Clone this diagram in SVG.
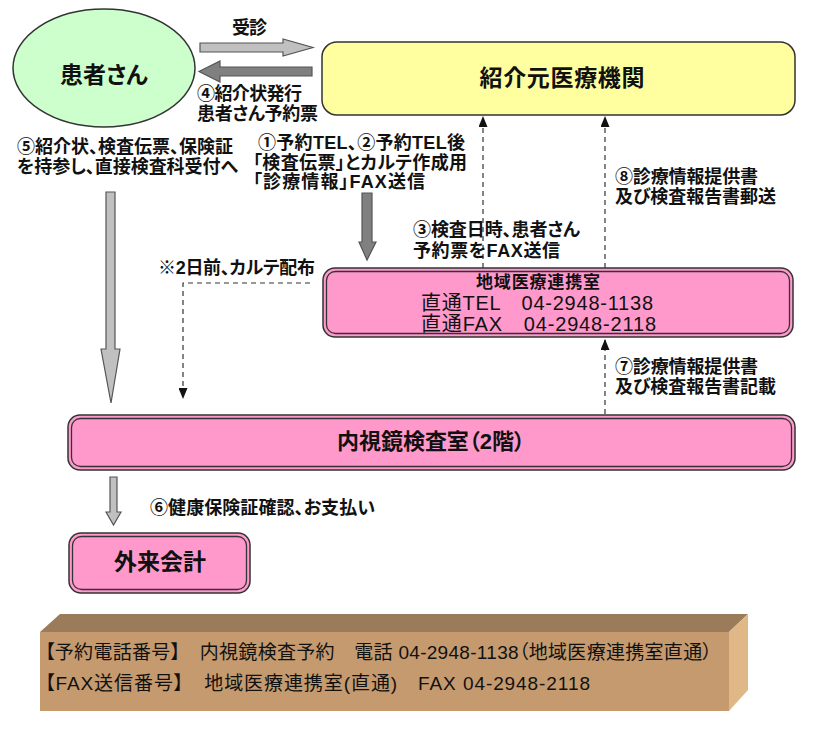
<svg xmlns="http://www.w3.org/2000/svg" width="814" height="734" viewBox="0 0 814 734">
<style>
text{font-family:"Liberation Sans","Noto Sans CJK JP",sans-serif;fill:#111;font-feature-settings:"palt"}
.lb{font-size:18px;font-weight:bold}
.dash{fill:none;stroke:#333;stroke-width:1.2;stroke-dasharray:5,4}
.pk{fill:#ff99cc;stroke:#333;stroke-width:1.5}
.pki{fill:none;stroke:#333;stroke-width:1.3}
.ga{fill:#c0c0c0;stroke:#555;stroke-width:1.2}
.da{fill:#808080;stroke:#555;stroke-width:1.2}
</style>
<defs>
<marker id="ah" markerWidth="11" markerHeight="9" refX="10" refY="4.5" viewBox="0 0 11 9" orient="auto" markerUnits="userSpaceOnUse">
<path d="M0,0 L11,4.5 L0,9 Z" fill="#111"/>
</marker>
</defs>
<rect width="814" height="734" fill="#fff"/>

<g id="patient">
<ellipse cx="104" cy="68" rx="91" ry="59" fill="#ccffcc" stroke="#333" stroke-width="1.5"/>
<text x="104" y="83" text-anchor="middle" font-size="23" font-weight="bold">患者さん</text>
</g>

<g id="referrer">
<rect x="322" y="42" width="473" height="73" rx="15" fill="#ffffa0" stroke="#333" stroke-width="1.5"/>
<text x="562" y="86" text-anchor="middle" font-size="23" font-weight="bold" textLength="165">紹介元医療機関</text>
</g>

<g id="liaison">
<rect class="pk" x="323" y="268" width="470" height="69" rx="12"/>
<rect class="pki" x="326.5" y="271.5" width="463" height="62" rx="9"/>
<text x="538" y="288" text-anchor="middle" font-size="17" font-weight="bold" textLength="124">地域医療連携室</text>
<text x="421" y="310" font-size="20" textLength="232">直通TEL　04-2948-1138</text>
<text x="421" y="331" font-size="20" textLength="235">直通FAX　04-2948-2118</text>
</g>

<g id="endoscopy">
<rect class="pk" x="68" y="415" width="727" height="55" rx="12"/>
<rect class="pki" x="71.5" y="418.5" width="720" height="48" rx="9"/>
<text x="337" y="449" font-size="22" font-weight="bold" textLength="188">内視鏡検査室（2階）</text>
</g>

<g id="cashier">
<rect class="pk" x="69" y="533" width="181" height="60" rx="12"/>
<rect class="pki" x="72.5" y="536.5" width="174" height="53" rx="9"/>
<text x="160" y="570" text-anchor="middle" font-size="23" font-weight="bold">外来会計</text>
</g>

<g id="connectors">
<polygon class="ga" points="200,43 283,43 283,39 313,47.5 283,56 283,52 200,52"/>
<polygon class="da" points="312,67 220,67 220,61 199,71.5 220,82 220,76 312,76"/>
<polygon class="ga" points="106,192 115,192 115,349 120,349 111,403 101,349 106,349"/>
<polygon class="da" points="362,193 372,193 372,242 376,242 367,260 359,242 362,242"/>
<polygon class="ga" points="110,477 117,477 117,512 121,512 113.5,525 106,512 110,512"/>
<path class="dash" d="M483,268 V117" marker-end="url(#ah)"/>
<path class="dash" d="M605,268 V117" marker-end="url(#ah)"/>
<path class="dash" d="M605,414 V340" marker-end="url(#ah)"/>
<path class="dash" d="M310,283 H183 V398" marker-end="url(#ah)"/>
</g>

<g id="labels">
<text class="lb" x="232" y="34" textLength="35">受診</text>
<text class="lb" x="197" y="100" textLength="105">④紹介状発行</text>
<text class="lb" x="197" y="120" textLength="121">患者さん予約票</text>
<text class="lb" x="17" y="153" textLength="216">⑤紹介状、検査伝票、保険証</text>
<text class="lb" x="17" y="173" textLength="221">を持参し、直接検査科受付へ</text>
<text class="lb" x="258" y="149" textLength="207">①予約TEL、②予約TEL後</text>
<text class="lb" x="253" y="169" textLength="214">「検査伝票」とカルテ作成用</text>
<text class="lb" x="253" y="188" textLength="172">「診療情報」FAX送信</text>
<text class="lb" x="413" y="236" textLength="167">③検査日時、患者さん</text>
<text class="lb" x="413" y="257" textLength="147">予約票をFAX送信</text>
<text class="lb" x="615" y="183" textLength="143">⑧診療情報提供書</text>
<text class="lb" x="615" y="203" textLength="161">及び検査報告書郵送</text>
<text class="lb" x="615" y="373" textLength="143">⑦診療情報提供書</text>
<text class="lb" x="615" y="393" textLength="161">及び検査報告書記載</text>
<text class="lb" x="158" y="274" textLength="157">※2日前、カルテ配布</text>
<text class="lb" x="150" y="514" textLength="225">⑥健康保険証確認、お支払い</text>
</g>

<g id="infobox">
<polygon points="40,632 60,614 748,614 729,632" fill="#9a7b5a"/>
<polygon points="729,632 748,614 748,690 729,711" fill="#e0b888"/>
<rect x="40" y="632" width="689" height="79" fill="#c49a6e"/>
<text x="45" y="659" font-size="19" textLength="667">【予約電話番号】　内視鏡検査予約　電話 04-2948-1138（地域医療連携室直通）</text>
<text x="45" y="690" font-size="19" textLength="545">【FAX送信番号】　地域医療連携室(直通)　FAX 04-2948-2118</text>
</g>
</svg>
